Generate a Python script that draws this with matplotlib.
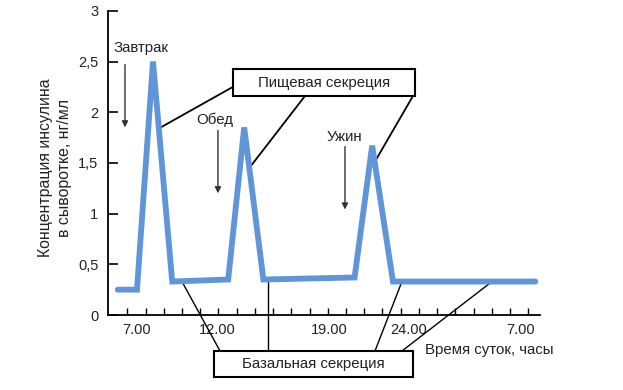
import matplotlib
matplotlib.use("Agg")
import matplotlib.pyplot as plt
import numpy as np
from matplotlib.patches import Rectangle

# insulin profile over a day (hours, ng/ml)
hours = [5.8, 7.0, 8.0, 9.2, 12.7, 13.7, 14.9, 20.6, 21.7, 23.0, 31.9]
insulin = [0.25, 0.25, 2.5, 0.33, 0.35, 1.85, 0.35, 0.37, 1.67, 0.33, 0.33]

x_ticks = [7, 12, 19, 24, 31]
x_labels = ["7.00", "12.00", "19.00", "24.00", "7.00"]
y_ticks = [0, 0.5, 1, 1.5, 2, 2.5, 3]
y_labels = ["0", "0,5", "1", "1,5", "2", "2,5", "3"]

meals = ["Завтрак", "Обед", "Ужин"]
meal_times = [6.25, 12.06, 20.0]

plt.rcParams["font.family"] = ["Liberation Sans", "DejaVu Sans"]
TXT = "#222222"
FS = 10.8


def main():
    fig = plt.figure(figsize=(6.23, 3.9), dpi=100)
    ax = fig.add_axes([0.1734, 0.1923, 0.6934, 0.780])

    ax.plot(hours, insulin, color="#6096d8", lw=4.2, solid_joinstyle="miter",
            solid_capstyle="round", zorder=3)

    ax.set_xlim(5.19, 32.19)
    ax.set_ylim(0, 3)
    for s in ("top", "right"):
        ax.spines[s].set_visible(False)
    for s in ("left", "bottom"):
        ax.spines[s].set_linewidth(1.3)
    ax.set_xticks(x_ticks)
    ax.set_xticklabels(x_labels)
    ax.set_xticks(np.linspace(6.4, 31.45, 23), minor=True)
    ax.tick_params(axis="x", which="major", length=0, pad=6, labelsize=10.5,
                   labelcolor=TXT)
    ax.tick_params(axis="x", which="minor", direction="in", length=5, width=1)
    ax.set_yticks(y_ticks)
    ax.set_yticklabels(y_labels)
    ax.tick_params(axis="y", direction="in", length=7, width=1.2, pad=7,
                   labelsize=10.5, labelcolor=TXT)

    fig.text(55 / 623, 1 - 168 / 390,
             "Концентрация инсулина\nв сыворотке, нг/мл",
             rotation=90, ha="center", va="center", fontsize=11.4, color=TXT,
             linespacing=1.25)
    fig.text(425 / 623, 1 - 350 / 390, "Время суток, часы",
             ha="left", va="center", fontsize=FS, color=TXT)

    # meal arrows
    arrow_top = [2.47, 1.82, 1.66]
    arrow_len = 0.62
    text_pos = [(7.28, 2.63), (11.875, 1.93), (19.94, 1.76)]
    for name, t, top, (tx, ty) in zip(meals, meal_times, arrow_top, text_pos):
        ax.annotate("", xy=(t, top - arrow_len), xytext=(t, top),
                    arrowprops=dict(arrowstyle="-|>", lw=1, color="#333333",
                                    mutation_scale=9, shrinkA=0, shrinkB=0))
        ax.text(tx, ty, name, ha="center", va="center", fontsize=FS, color=TXT)

    # food secretion box
    ax.add_patch(Rectangle((13.0, 2.16), 11.375, 0.266, fill=True,
                           facecolor="white", edgecolor="black", lw=1.5,
                           zorder=4, clip_on=False))
    ax.text(18.69, 2.29, "Пищевая секреция", ha="center", va="center",
            fontsize=FS, color=TXT, zorder=5)
    for (x0, y0), (x1, y1) in [((13.0, 2.25), (8.37, 1.84)),
                               ((17.5, 2.16), (14.02, 1.45)),
                               ((24.25, 2.16), (21.86, 1.51))]:
        ax.plot([x0, x1], [y0, y1], color="black", lw=1.3, zorder=2,
                clip_on=False)

    # basal secretion box
    ax.add_patch(Rectangle((11.81, -0.611), 12.44, 0.256, fill=True,
                           facecolor="white", edgecolor="black", lw=1.5,
                           zorder=4, clip_on=False))
    ax.text(18.0, -0.483, "Базальная секреция", ha="center", va="center",
            fontsize=FS, color=TXT, zorder=5, clip_on=False)
    for (x0, y0), (x1, y1) in [((12.19, -0.355), (9.81, 0.33)),
                               ((15.19, -0.355), (15.19, 0.35)),
                               ((21.875, -0.355), (23.56, 0.33)),
                               ((23.56, -0.355), (29.19, 0.33))]:
        ax.plot([x0, x1], [y0, y1], color="black", lw=1.0, zorder=2,
                clip_on=False)

    fig.savefig("out.png", dpi=100, facecolor="white")


if __name__ == "__main__":
    main()
